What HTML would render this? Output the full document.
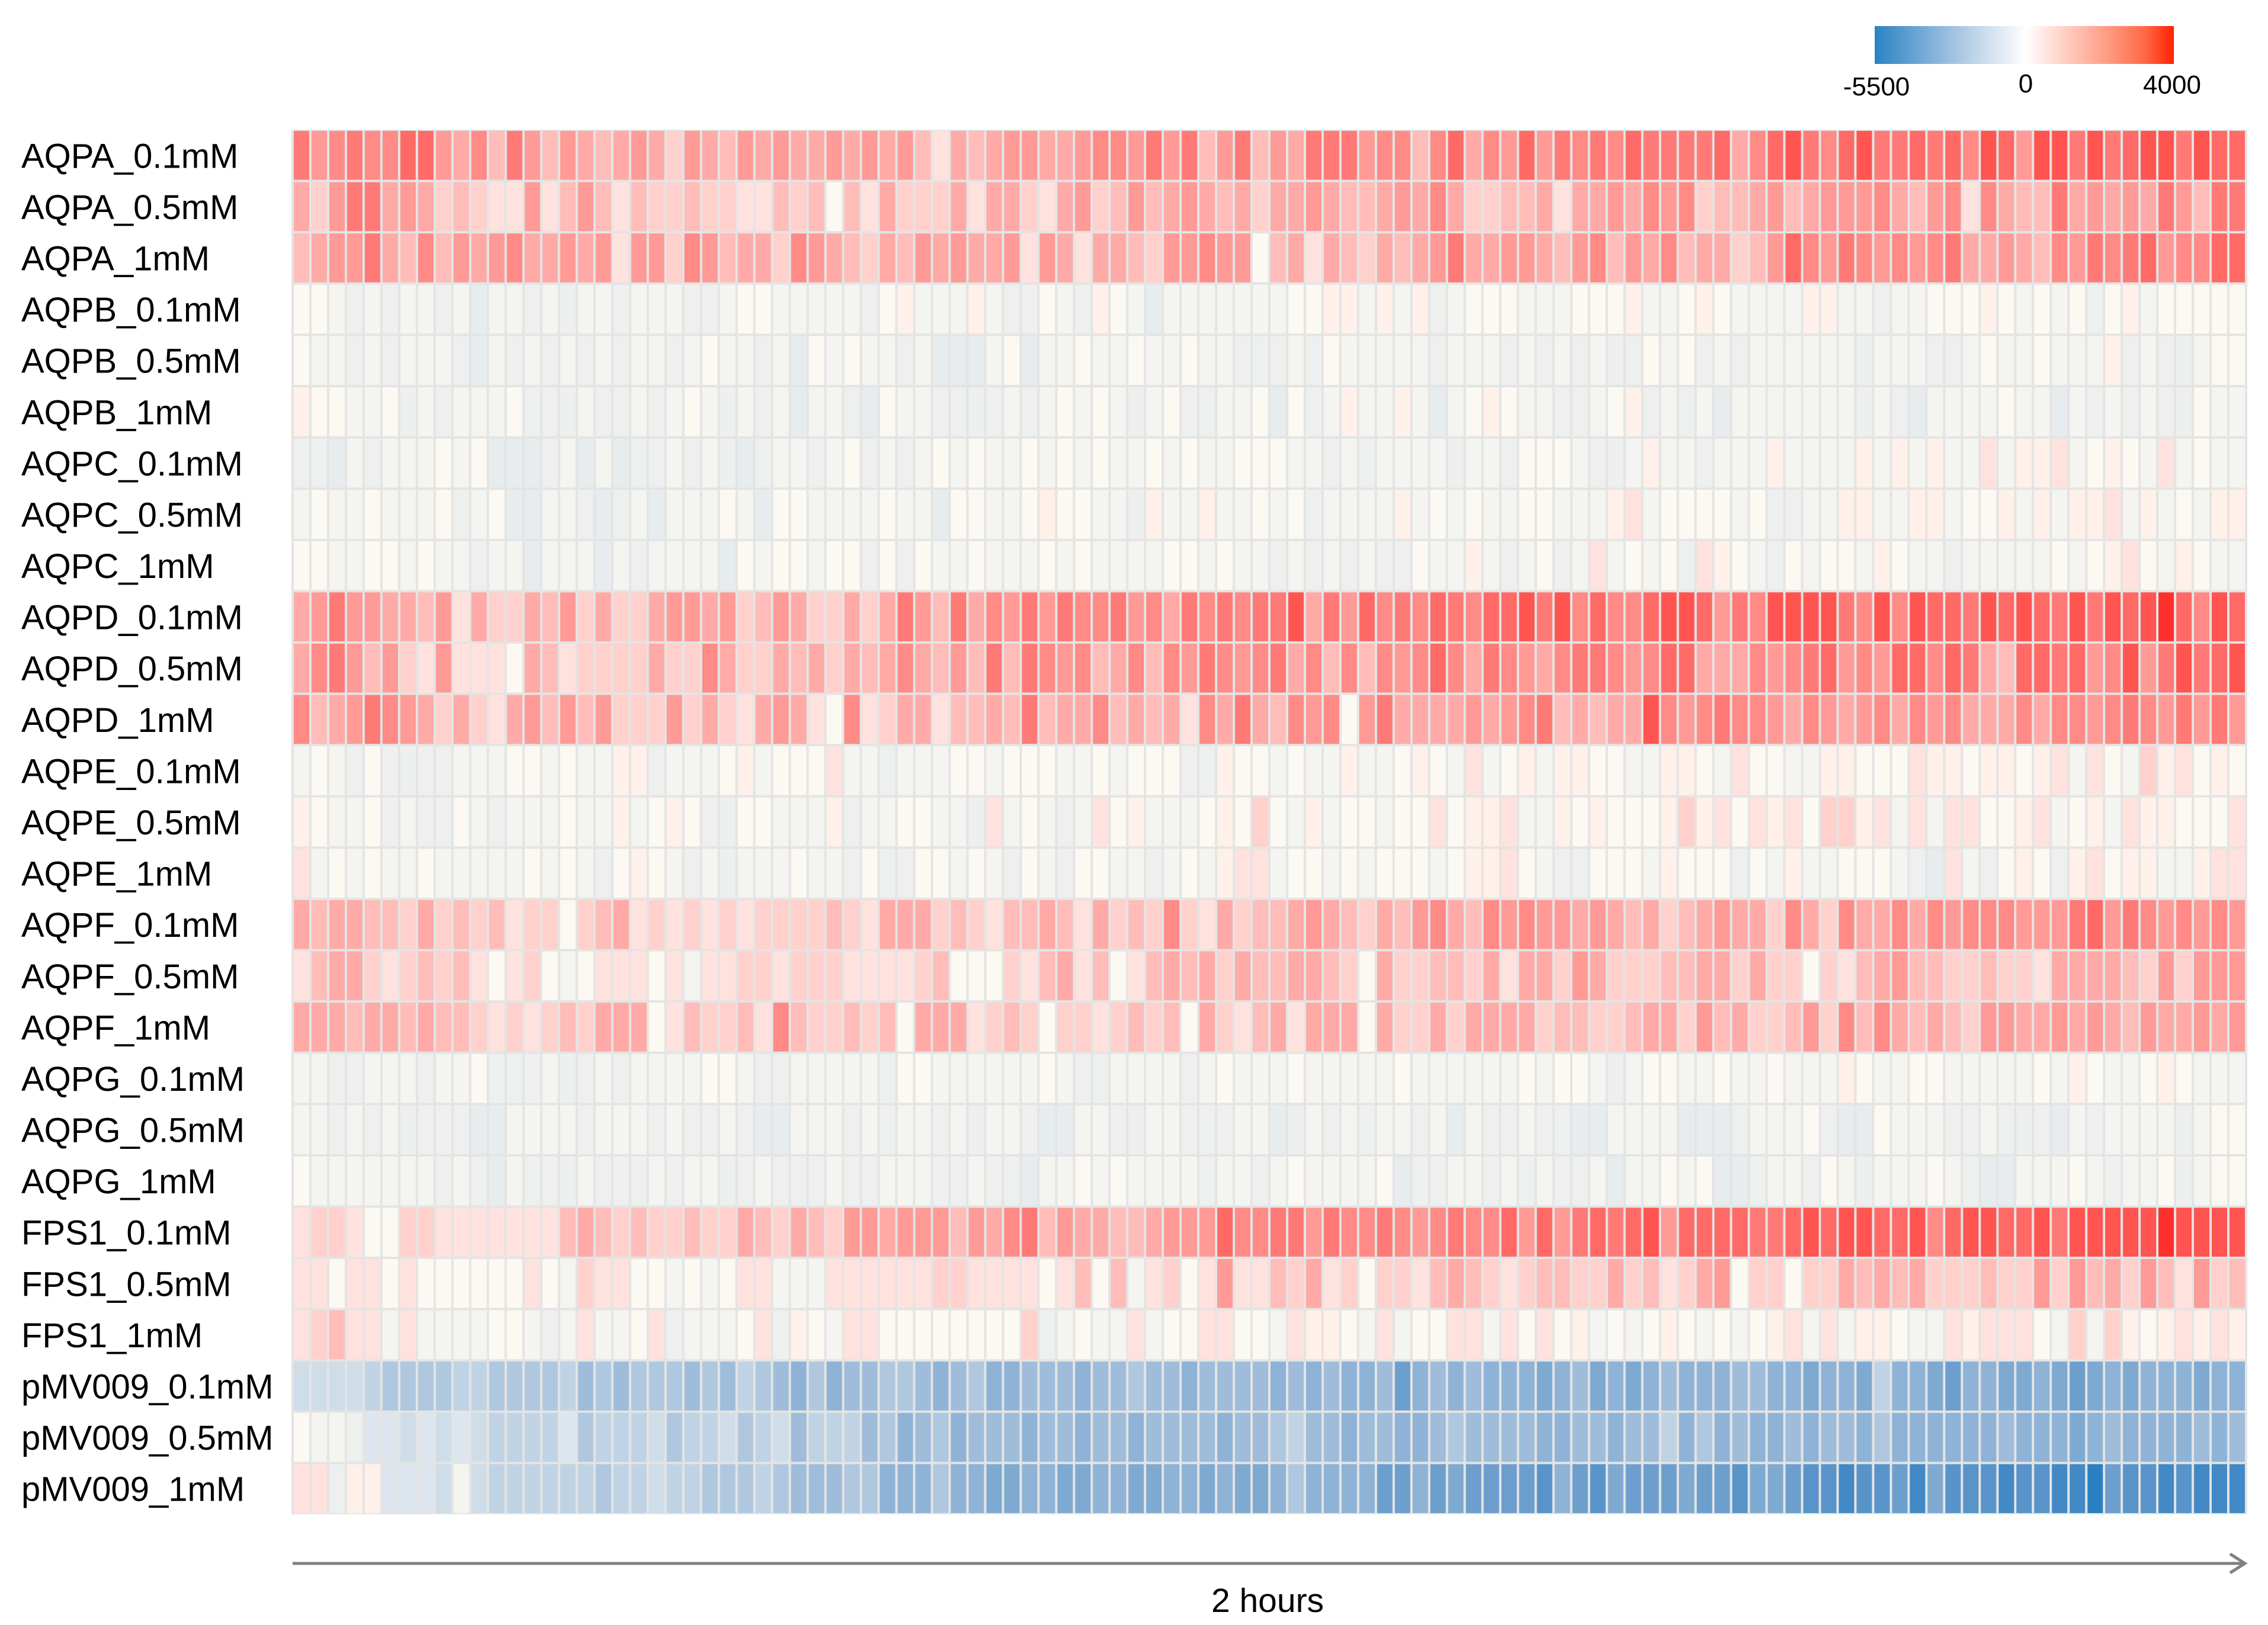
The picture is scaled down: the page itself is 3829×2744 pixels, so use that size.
<!DOCTYPE html>
<html><head><meta charset="utf-8">
<style>
html,body{margin:0;padding:0;background:#fff;}
body{width:3829px;height:2744px;overflow:hidden;}
svg{display:block;font-family:"Liberation Sans",Arial,sans-serif;}
</style></head>
<body>
<svg id="chart" width="3829" height="2744" viewBox="0 0 3829 2744" xmlns="http://www.w3.org/2000/svg">
  <defs>
    <linearGradient id="cbar" x1="0" x2="1" y1="0" y2="0">
      <stop offset="0" stop-color="#2a83c4"/>
      <stop offset="0.25" stop-color="#9dbfdf"/>
      <stop offset="0.42" stop-color="#dfe9f3"/>
      <stop offset="0.505" stop-color="#ffffff"/>
      <stop offset="0.6" stop-color="#ffdcd4"/>
      <stop offset="0.78" stop-color="#ff9a82"/>
      <stop offset="0.9" stop-color="#ff6a48"/>
      <stop offset="1" stop-color="#ff2200"/>
    </linearGradient>
  </defs>
  <rect x="492" y="219" width="3302" height="2338" fill="#e4e4e4"/>
  <g id="cells"></g>
  <g id="labels"></g>
  <g>
    <rect x="3165" y="44" width="505" height="64" fill="url(#cbar)"/>
    <text x="3168" y="161" font-size="44" text-anchor="middle">-5500</text>
    <text x="3420" y="156" font-size="44" text-anchor="middle">0</text>
    <text x="3667" y="158" font-size="44" text-anchor="middle">4000</text>
  </g>
  <g>
    <line x1="494" y1="2640" x2="3788" y2="2640" stroke="#808080" stroke-width="5"/>
    <polyline points="3765,2624 3790,2640 3765,2656" fill="none" stroke="#808080" stroke-width="5"/>
    <text x="2140" y="2722" font-size="57" text-anchor="middle">2 hours</text>
  </g>
</svg>
<script>
const rowLabels = ["AQPA_0.1mM","AQPA_0.5mM","AQPA_1mM","AQPB_0.1mM","AQPB_0.5mM","AQPB_1mM","AQPC_0.1mM","AQPC_0.5mM","AQPC_1mM","AQPD_0.1mM","AQPD_0.5mM","AQPD_1mM","AQPE_0.1mM","AQPE_0.5mM","AQPE_1mM","AQPF_0.1mM","AQPF_0.5mM","AQPF_1mM","AQPG_0.1mM","AQPG_0.5mM","AQPG_1mM","FPS1_0.1mM","FPS1_0.5mM","FPS1_1mM","pMV009_0.1mM","pMV009_0.5mM","pMV009_1mM"];
const nCols = 110;
// level codes: 0-9,x = positive levels; p,n,a,b = near zero; A-K = negative levels
const codesLeft = [
"7567668854637535434542543545445454531434554456657573573",
"4257745423211513531322322113230314222414421452353454342",
"3455743635456445451552653442654324354544515414432556550",
"00nanannanbnnanannannnaan00nnnnna0pnnnpnaa0nap0nbnnnn",
"0nnanannnabnanananannan0nnanb0n0nnanbbbn0bnn0nn0nn0nnaanbnn",
"p00nn0anannn0aaanaanan0nananbnnab0nnaaaanan0n0nan0aann0",
"aabnannn0n0bbbanbnbaananabannan0anan0n0nn0n0n0nn0n0nn0",
"n0nn0nnn0an0bbnnabanbnnn0nb00nnnn0nnb00nn0p00nnapnnpnn0",
"00nn00n0nnannbnnnbnannnnb0n00n00a0a0nn0nnn0n0nnnn00n0nnn0",
"4575544351422435242245545235422424753746575766756476767",
"4675352151110431222242264224342434643537376563463657656",
"6345765424214535352225242145410612441334373446343416474",
"n0na0aaaannn00n0nnppannn0pn0001nnannn00n000nn0n000aap00",
"p0nn0anaa0nannn0nnpn0p0aa00nnnpann00nna1n0nan10pnnn0p020",
"1n0n0nn0nnnnn0n0na0p0nanannn0nna0aa00n0na0na00nnan0np1",
"4344332423231220234121212122223214442321334314232621423",
"134421232310120n011101n1122122211112300021341301343424 3",
"4443443433212123244401322316322323044412320221232304213",
"nnaannnann0aaanaanannnn00naannnnna00nnnnnn0naannnnan0nn0",
"nnananaaaabbnnnnannnanaanabbnnnanannanannabbnnaannaaannab",
"0nnnnnnnanabnaaanaaanannaanaaanaannnaanaabnn0n0nnnnanna",
"1221002211111113432322322432432554555354673544334555866",
"110110100000010n21100n0n011nnn111111221111013 03n1201511",
"12311n1nnnn00nan1nn01annn01ap0n110000000 02an0nn1n001100",
"BBBBCDDDDCCDDDDCEDEDDDEDECDEFDFEEDDEFEDFFEEEFEEDEEFEEEE",
"0nnaAABABABCCCCADCCCBDCCBDCBECCCEDFEDFEEEFEEFEEFEEEEFEE",
"11appAAABnBCCCCCCDCCBCCDDDCDEEEDDFFFDFFGGFFGGFFGGFFGFGG"
];
const codesRight = [
"5477756636846585767687777846897689778786985997978997988",
"445433454642233414454656233453455564356164337454547537",
"3414324345744554356354634423586576565674454365767856 68",
"n00ppnpnpan000nnn000pnn0p0nnnnppnnann000p0n0n0a0pn0",
"ana0nnnnnannnanananaa0n0anannnnnnannnaan0nn0nnnpanaan0",
"b0anpnnpnbn0p0nnaan0pananbnnnnnnnanabnnnn0nnbnananaa0n",
"0nnanannnnanna000naanpnnannnpnnnnpnpnpnn1npp1n0p0n1n0n",
"n0annnnpn0n0nn00nnnp1n0000n0aannppnnppn00pnpnpp1npn0np",
"anananaa0nnpnan0an1n0n0a1p0na0n00np0nnannnnn0n0p10np0n",
"79475867687688979686689985769999769698879898797989x8698979x7",
"7463636568647654677656884446567856588687438878569579 7897",
"3656057444454567343449656766546545646564446466567657575",
"n0nnpnn0p0n1n0pnpp00nnpp0n100nnpp0001pp0pp0p1n10n2p10p0",
"0npn00n0010pp1nnp0p000p2p101p102 2p1n1n1100p1n0pn1pp0001",
"n00n0n000n0pp10naa000np000a0npnn000nab1na0p0ap10ppnnp1",
"3454324356436565545434234544264264464656665557857656565",
"3443204223324144254222334424220213453322322144443252 5",
"4144404224244442332234425342235263643432554454543544545",
"n0nnnnn0nnnnnn0n00nan00nn0nn0nnnp0nn00nnnnn0np0nn0p0n",
"bananannanbnaanaabbnnnnbbbannn0abb0nnnaanaaabnannnnan0",
"n0nnnn0baannananaanbnn0n0bbanna0nannn0nabbnnn0nann0an0",
"7757667656766858578789588887789899889689988979999 9x9999",
"3241202213432123322423124502202243434222322525342531523",
"n1pp0n1n0011n1010pn0n0p0n0n0p1n1npp0nn1p1110n2n2p0p1p1p",
"FEFEFFEHFEFEFFFGFEGFGFEFFFEEFFGFFGCFFGHFFGGFGHGFGFFFGFF",
"DCEEFEEFFEDEEEEFFEEFEECFDFEFFEFEEFDFFFFFFEFFFGFEFFFFEFE",
"FDFFFFHHFHGHHHHIFHIGHHHGHHIGGHIIJIIHJGIIIJIIJJKHIIJIJJJ"
];

function fit(s, n){ s = s.replace(/\s/g,''); if (s.length >= n) return s.slice(0,n); while (s.length < n) s += s[s.length-1]; return s; }
function decode(ch){
  if (ch >= '0' && ch <= '9') return ch === '0' ? 20 : (+ch)*400;
  if (ch === 'x') return 3900;
  if (ch === 'p') return 200;
  if (ch === 'n') return -30;
  if (ch === 'a') return -120;
  if (ch === 'b') return -250;
  const i = ch.charCodeAt(0) - 65;
  if (i >= 0 && i < 11) return -(i+1)*500;
  return 0;
}
// values matrix (rows x cols)
const values = rowLabels.map((_, r) => (fit(codesLeft[r],55) + fit(codesRight[r],55)).split('').map(decode));

const stops = [[-5500,"#2a80c3"],[-5000,"#4289c5"],[-4500,"#5894c9"],[-4000,"#6c9fcd"],[-3500,"#7eaad2"],[-3000,"#8eb3d6"],[-2500,"#9fbdda"],[-2000,"#afc8e0"],[-1500,"#bfd3e5"],[-1000,"#cfdde9"],[-500,"#dde6ee"],[-250,"#e7ecee"],[-120,"#eef0f0"],[-30,"#f4f4f0"],[20,"#fcf9f2"],[200,"#fff0ea"],[400,"#ffe2dd"],[800,"#ffd0cc"],[1200,"#ffbcb8"],[1600,"#ffaaa6"],[2000,"#ff9a96"],[2400,"#ff8a86"],[2800,"#ff7a76"],[3200,"#ff6a66"],[3600,"#ff5450"],[4000,"#ff2420"]];
function hex(c){return [parseInt(c.slice(1,3),16),parseInt(c.slice(3,5),16),parseInt(c.slice(5,7),16)];}
function colorOf(v){
  if (v <= stops[0][0]) return stops[0][1];
  for (let i=1;i<stops.length;i++){
    if (v <= stops[i][0]){
      const t=(v-stops[i-1][0])/(stops[i][0]-stops[i-1][0]);
      const a=hex(stops[i-1][1]), b=hex(stops[i][1]);
      return 'rgb('+a.map((x,k)=>Math.round(x+(b[k]-x)*t)).join(',')+')';
    }
  }
  return stops[stops.length-1][1];
}
const gx0=494, gx1=3792, gy0=219, gy1=2557;
const xScale = c => gx0 + (gx1-gx0)*c/nCols;
const yScale = r => gy0 + (gy1-gy0)*r/rowLabels.length;
const NS="http://www.w3.org/2000/svg";
const cellsG=document.getElementById('cells');
values.forEach((row,r)=>{
  row.forEach((v,c)=>{
    const x0=xScale(c), x1=xScale(c+1), y0=yScale(r), y1=yScale(r+1);
    const rect=document.createElementNS(NS,'rect');
    rect.setAttribute('x',(x0+2).toFixed(1));
    rect.setAttribute('y',(y0+2).toFixed(1));
    rect.setAttribute('width',(x1-x0-4).toFixed(1));
    rect.setAttribute('height',(y1-y0-4).toFixed(1));
    rect.setAttribute('fill',colorOf(v));
    
    
    cellsG.appendChild(rect);
  });
});
const labG=document.getElementById('labels');
rowLabels.forEach((lab,r)=>{
  const t=document.createElementNS(NS,'text');
  t.setAttribute('x',36);
  t.setAttribute('y',(yScale(r+0.5)+21).toFixed(1));
  t.setAttribute('font-size','58');
  t.textContent=lab;
  
  
  labG.appendChild(t);
});
</script>
</body></html>
